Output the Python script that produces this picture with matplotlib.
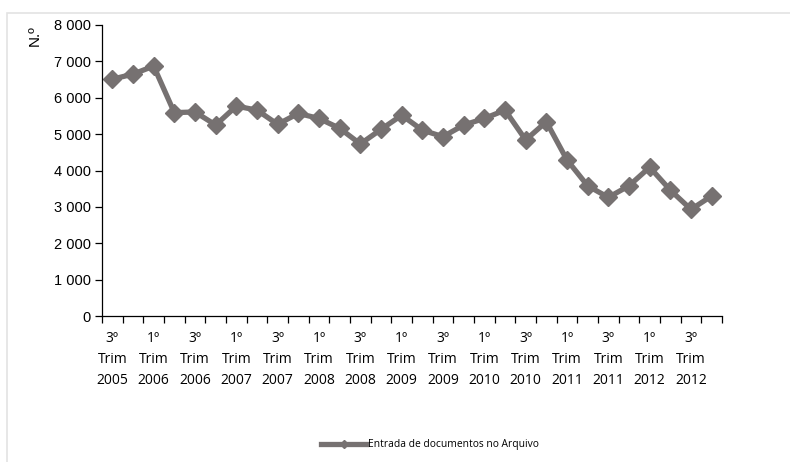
import matplotlib
matplotlib.use("Agg")
import matplotlib.pyplot as plt
from matplotlib.lines import Line2D
from matplotlib.patches import Rectangle

years = ["2005", "2005"] + [str(y) for y in range(2006, 2013) for _ in range(4)]
quarters = ["3º", "4º"] + ["1º", "2º", "3º", "4º"] * 7
values = [6510, 6650, 6870, 5590, 5610, 5250, 5770, 5660, 5270, 5570,
          5430, 5160, 4730, 5130, 5520, 5110, 4930, 5250, 5430, 5660,
          4840, 5340, 4290, 3580, 3260, 3580, 4090, 3460, 2930, 3300]
series_name = "Entrada de documentos no Arquivo"
y_ticks = [0, 1000, 2000, 3000, 4000, 5000, 6000, 7000, 8000]

cats = list(range(len(values)))
labels = [f"{quarters[i]}\nTrim\n{years[i]}" for i in cats]

col = "#767171"
fig = plt.figure(figsize=(7.9, 4.62), dpi=100)
fig.patches.append(Rectangle((7/790, -0.01), 1.0, 1 - 13/462 + 0.01, transform=fig.transFigure,
                             fill=False, edgecolor="#e3e3e3", linewidth=1.2))
ax = fig.add_axes([102/790, 1 - 316/462, 620/790, 291/462])
ax.plot(cats, values, color=col, linewidth=3.8, marker="D", markersize=9,
        markerfacecolor=col, markeredgecolor=col, solid_joinstyle="miter")
ax.set_xlim(-0.5, len(values) - 0.5)
ax.set_ylim(0, 8000)
for s in ["top", "right"]:
    ax.spines[s].set_visible(False)
for s in ["left", "bottom"]:
    ax.spines[s].set_color("#000000")
    ax.spines[s].set_linewidth(0.9)

ax.set_yticks(y_ticks)
ax.set_yticklabels([f"{v:,}".replace(",", " ") for v in y_ticks],
                   fontfamily="Liberation Sans", fontsize=10.5)
ax.tick_params(axis="y", direction="out", length=5, width=0.9, pad=3)

ax.set_xticks([i - 0.5 for i in range(len(values) + 1)])
ax.set_xticklabels([])
ax.tick_params(axis="x", which="major", direction="out", length=5, width=0.9)
ax.set_xticks(cats[::2], minor=True)
ax.set_xticklabels(labels[::2], minor=True, fontfamily="Open Sans", fontsize=10,
                   linespacing=1.52)
ax.tick_params(axis="x", which="minor", length=0, pad=11)

fig.text(35/790, 1 - 36/462, "N.º", rotation=90, ha="center", va="center",
         fontfamily="Liberation Sans", fontsize=11)

h = Line2D([], [], color=col, linewidth=3.8, marker="D", markersize=4,
           markerfacecolor=col, markeredgecolor=col)
fig.legend([h], [series_name], loc="center", bbox_to_anchor=(430/790, 1 - 445/462),
           frameon=False, prop={"family": "Open Sans", "size": 7.4}, handlelength=4.4,
           handletextpad=0.15)

fig.savefig("out.png", dpi=100)
